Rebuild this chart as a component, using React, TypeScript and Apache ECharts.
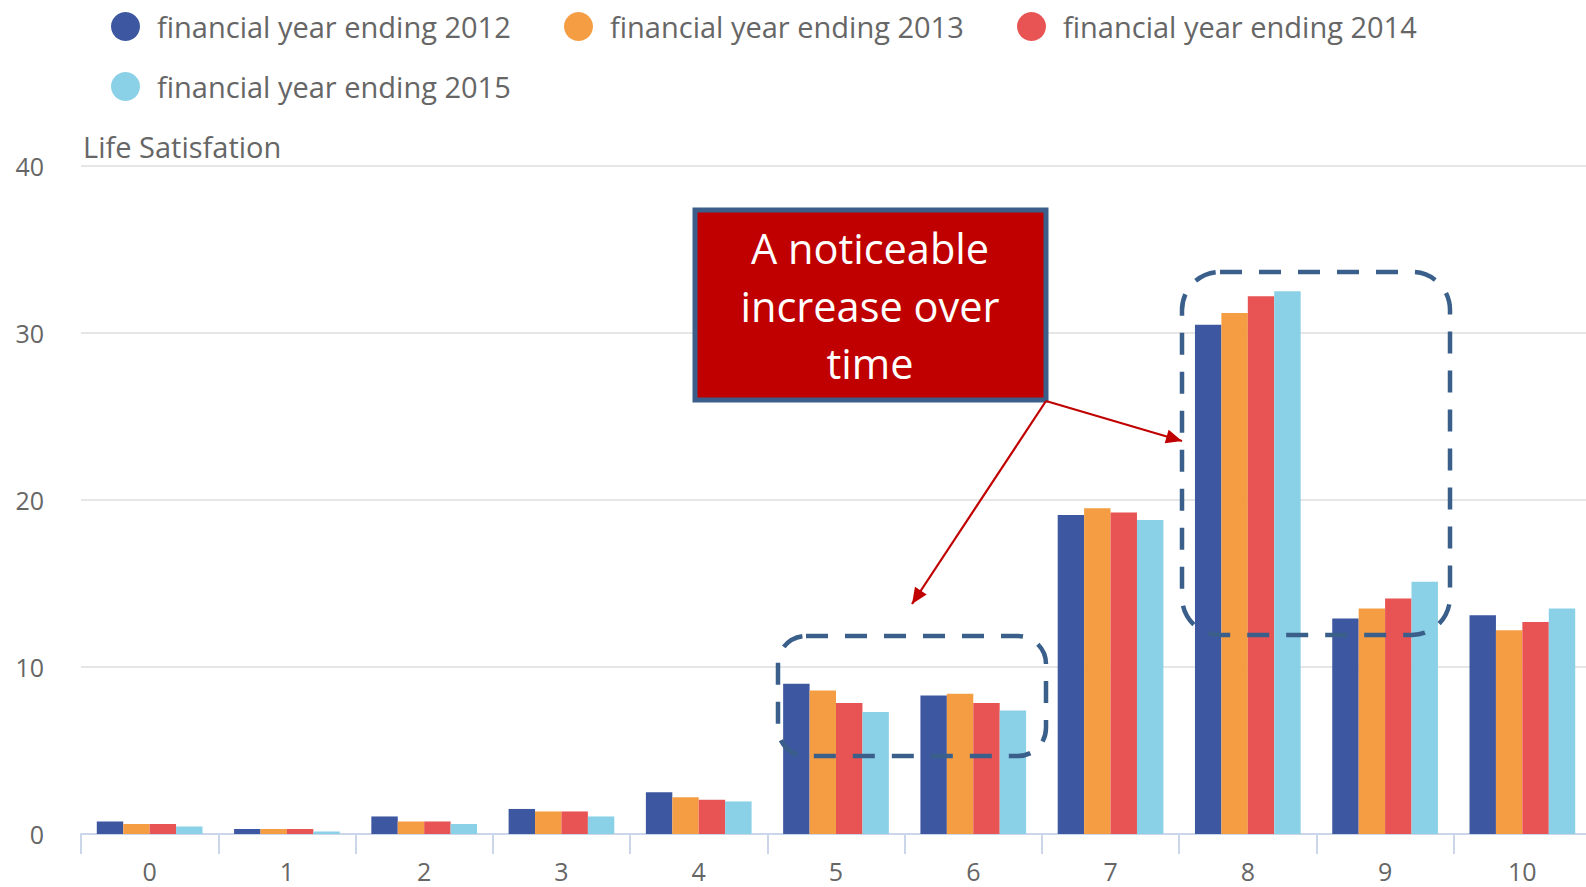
import React, { useEffect, useRef } from "react";
import * as echarts from "echarts";

const categories = ["0", "1", "2", "3", "4", "5", "6", "7", "8", "9", "10"];
const seriesNames = [
  "financial year ending 2012",
  "financial year ending 2013",
  "financial year ending 2014",
  "financial year ending 2015",
];
const fy2012 = [0.75, 0.3, 1.05, 1.5, 2.5, 9.0, 8.3, 19.1, 30.5, 12.9, 13.1];
const fy2013 = [0.6, 0.3, 0.75, 1.35, 2.2, 8.6, 8.4, 19.5, 31.2, 13.5, 12.2];
const fy2014 = [0.6, 0.3, 0.75, 1.35, 2.05, 7.85, 7.85, 19.25, 32.2, 14.1, 12.7];
const fy2015 = [0.45, 0.15, 0.6, 1.05, 1.95, 7.3, 7.4, 18.8, 32.5, 15.1, 13.5];
const yTicks = { min: 0, max: 40, interval: 10 };
const colors = ["#3d57a0", "#f59d43", "#e85353", "#8ad0e6"];
const yAxisTitle = "Life Satisfation";
const calloutLines = ["A noticeable", "increase over", "time"];

const FONT = "'Open Sans', 'Noto Sans', sans-serif";

function arrowHead(x1: number, y1: number, x2: number, y2: number, len = 16, half = 7) {
  const dx = x2 - x1;
  const dy = y2 - y1;
  const d = Math.sqrt(dx * dx + dy * dy);
  const ux = dx / d;
  const uy = dy / d;
  const bx = x2 - ux * len;
  const by = y2 - uy * len;
  return [
    [x2, y2],
    [bx - uy * half, by + ux * half],
    [bx + uy * half, by - ux * half],
  ];
}

export default function App() {
  const ref = useRef<HTMLDivElement>(null);
  useEffect(() => {
    document.body.style.margin = "0";
    document.body.style.overflow = "hidden";
    document.documentElement.style.overflow = "hidden";
    if (!ref.current) return;
    const chart = echarts.init(ref.current, null, { renderer: "svg" });
    const dataSets = [fy2012, fy2013, fy2014, fy2015];
    const legendPos = [
      { left: 106, top: 7 },
      { left: 559, top: 7 },
      { left: 1012, top: 7 },
      { left: 106, top: 67 },
    ];
    const origin = [1046, 401];
    const tipA = [912, 604];
    const tipB = [1182, 441];
    chart.setOption({
      animation: false,
      color: colors,
      textStyle: { fontFamily: FONT },
      legend: seriesNames.map((n, i) => ({
        data: [n],
        left: legendPos[i].left,
        top: legendPos[i].top,
        icon: "circle",
        itemWidth: 53,
        itemHeight: 29,
        selectedMode: false,
        textStyle: { fontSize: 29, color: "#666666", fontFamily: FONT },
      })),
      title: {
        text: yAxisTitle,
        left: 83,
        top: 132,
        padding: 0,
        textStyle: { fontSize: 29, fontWeight: "normal", color: "#666666", fontFamily: FONT },
      },
      grid: { left: 81, top: 166, width: 1510, height: 668, containLabel: false },
      xAxis: {
        type: "category",
        data: categories,
        axisLine: { lineStyle: { color: "#ccd6eb", width: 2 } },
        axisTick: { show: true, length: 20, lineStyle: { color: "#ccd6eb", width: 2 } },
        axisLabel: { fontSize: 25, color: "#666666", margin: 24, fontFamily: FONT },
      },
      yAxis: {
        type: "value",
        min: yTicks.min,
        max: yTicks.max,
        interval: yTicks.interval,
        axisLine: { show: false },
        axisTick: { show: false },
        splitLine: { lineStyle: { color: "#e6e6e6", width: 2 } },
        axisLabel: { fontSize: 25, color: "#666666", margin: 37, fontFamily: FONT },
      },
      series: seriesNames.map((n, i) => ({
        name: n,
        type: "bar",
        data: dataSets[i],
        barGap: "0%",
        barCategoryGap: "23%",
        itemStyle: { color: colors[i] },
      })),
      graphic: [
        {
          type: "rect",
          shape: { x: 778, y: 636, width: 268, height: 120, r: 28 },
          style: { fill: "none", stroke: "#3a5f8b", lineWidth: 4.5, lineDash: [22, 17] },
          z: 100,
        },
        {
          type: "rect",
          shape: { x: 1182, y: 272, width: 268, height: 363, r: 38 },
          style: { fill: "none", stroke: "#3a5f8b", lineWidth: 4.5, lineDash: [22, 17] },
          z: 100,
        },
        {
          type: "rect",
          shape: { x: 695, y: 210, width: 351, height: 190 },
          style: { fill: "#c00000", stroke: "#3b5f8a", lineWidth: 5 },
          z: 100,
        },
        ...calloutLines.map((t, i) => ({
          type: "text",
          x: 870,
          y: 248 + i * 57.5,
          style: {
            text: t,
            fill: "#ffffff",
            font: `41.5px ${FONT}`,
            textAlign: "center",
            textVerticalAlign: "middle",
          },
          z: 101,
        })),
        {
          type: "line",
          shape: { x1: origin[0], y1: origin[1], x2: tipA[0], y2: tipA[1] },
          style: { stroke: "#c00000", lineWidth: 2.2 },
          z: 100,
        },
        {
          type: "line",
          shape: { x1: origin[0], y1: origin[1], x2: tipB[0], y2: tipB[1] },
          style: { stroke: "#c00000", lineWidth: 2.2 },
          z: 100,
        },
        {
          type: "polygon",
          shape: { points: arrowHead(origin[0], origin[1], tipA[0], tipA[1]) },
          style: { fill: "#c00000" },
          z: 100,
        },
        {
          type: "polygon",
          shape: { points: arrowHead(origin[0], origin[1], tipB[0], tipB[1]) },
          style: { fill: "#c00000" },
          z: 100,
        },
      ],
    });
    return () => chart.dispose();
  }, []);
  return <div ref={ref} style={{ width: 1600, height: 887 }} />;
}
